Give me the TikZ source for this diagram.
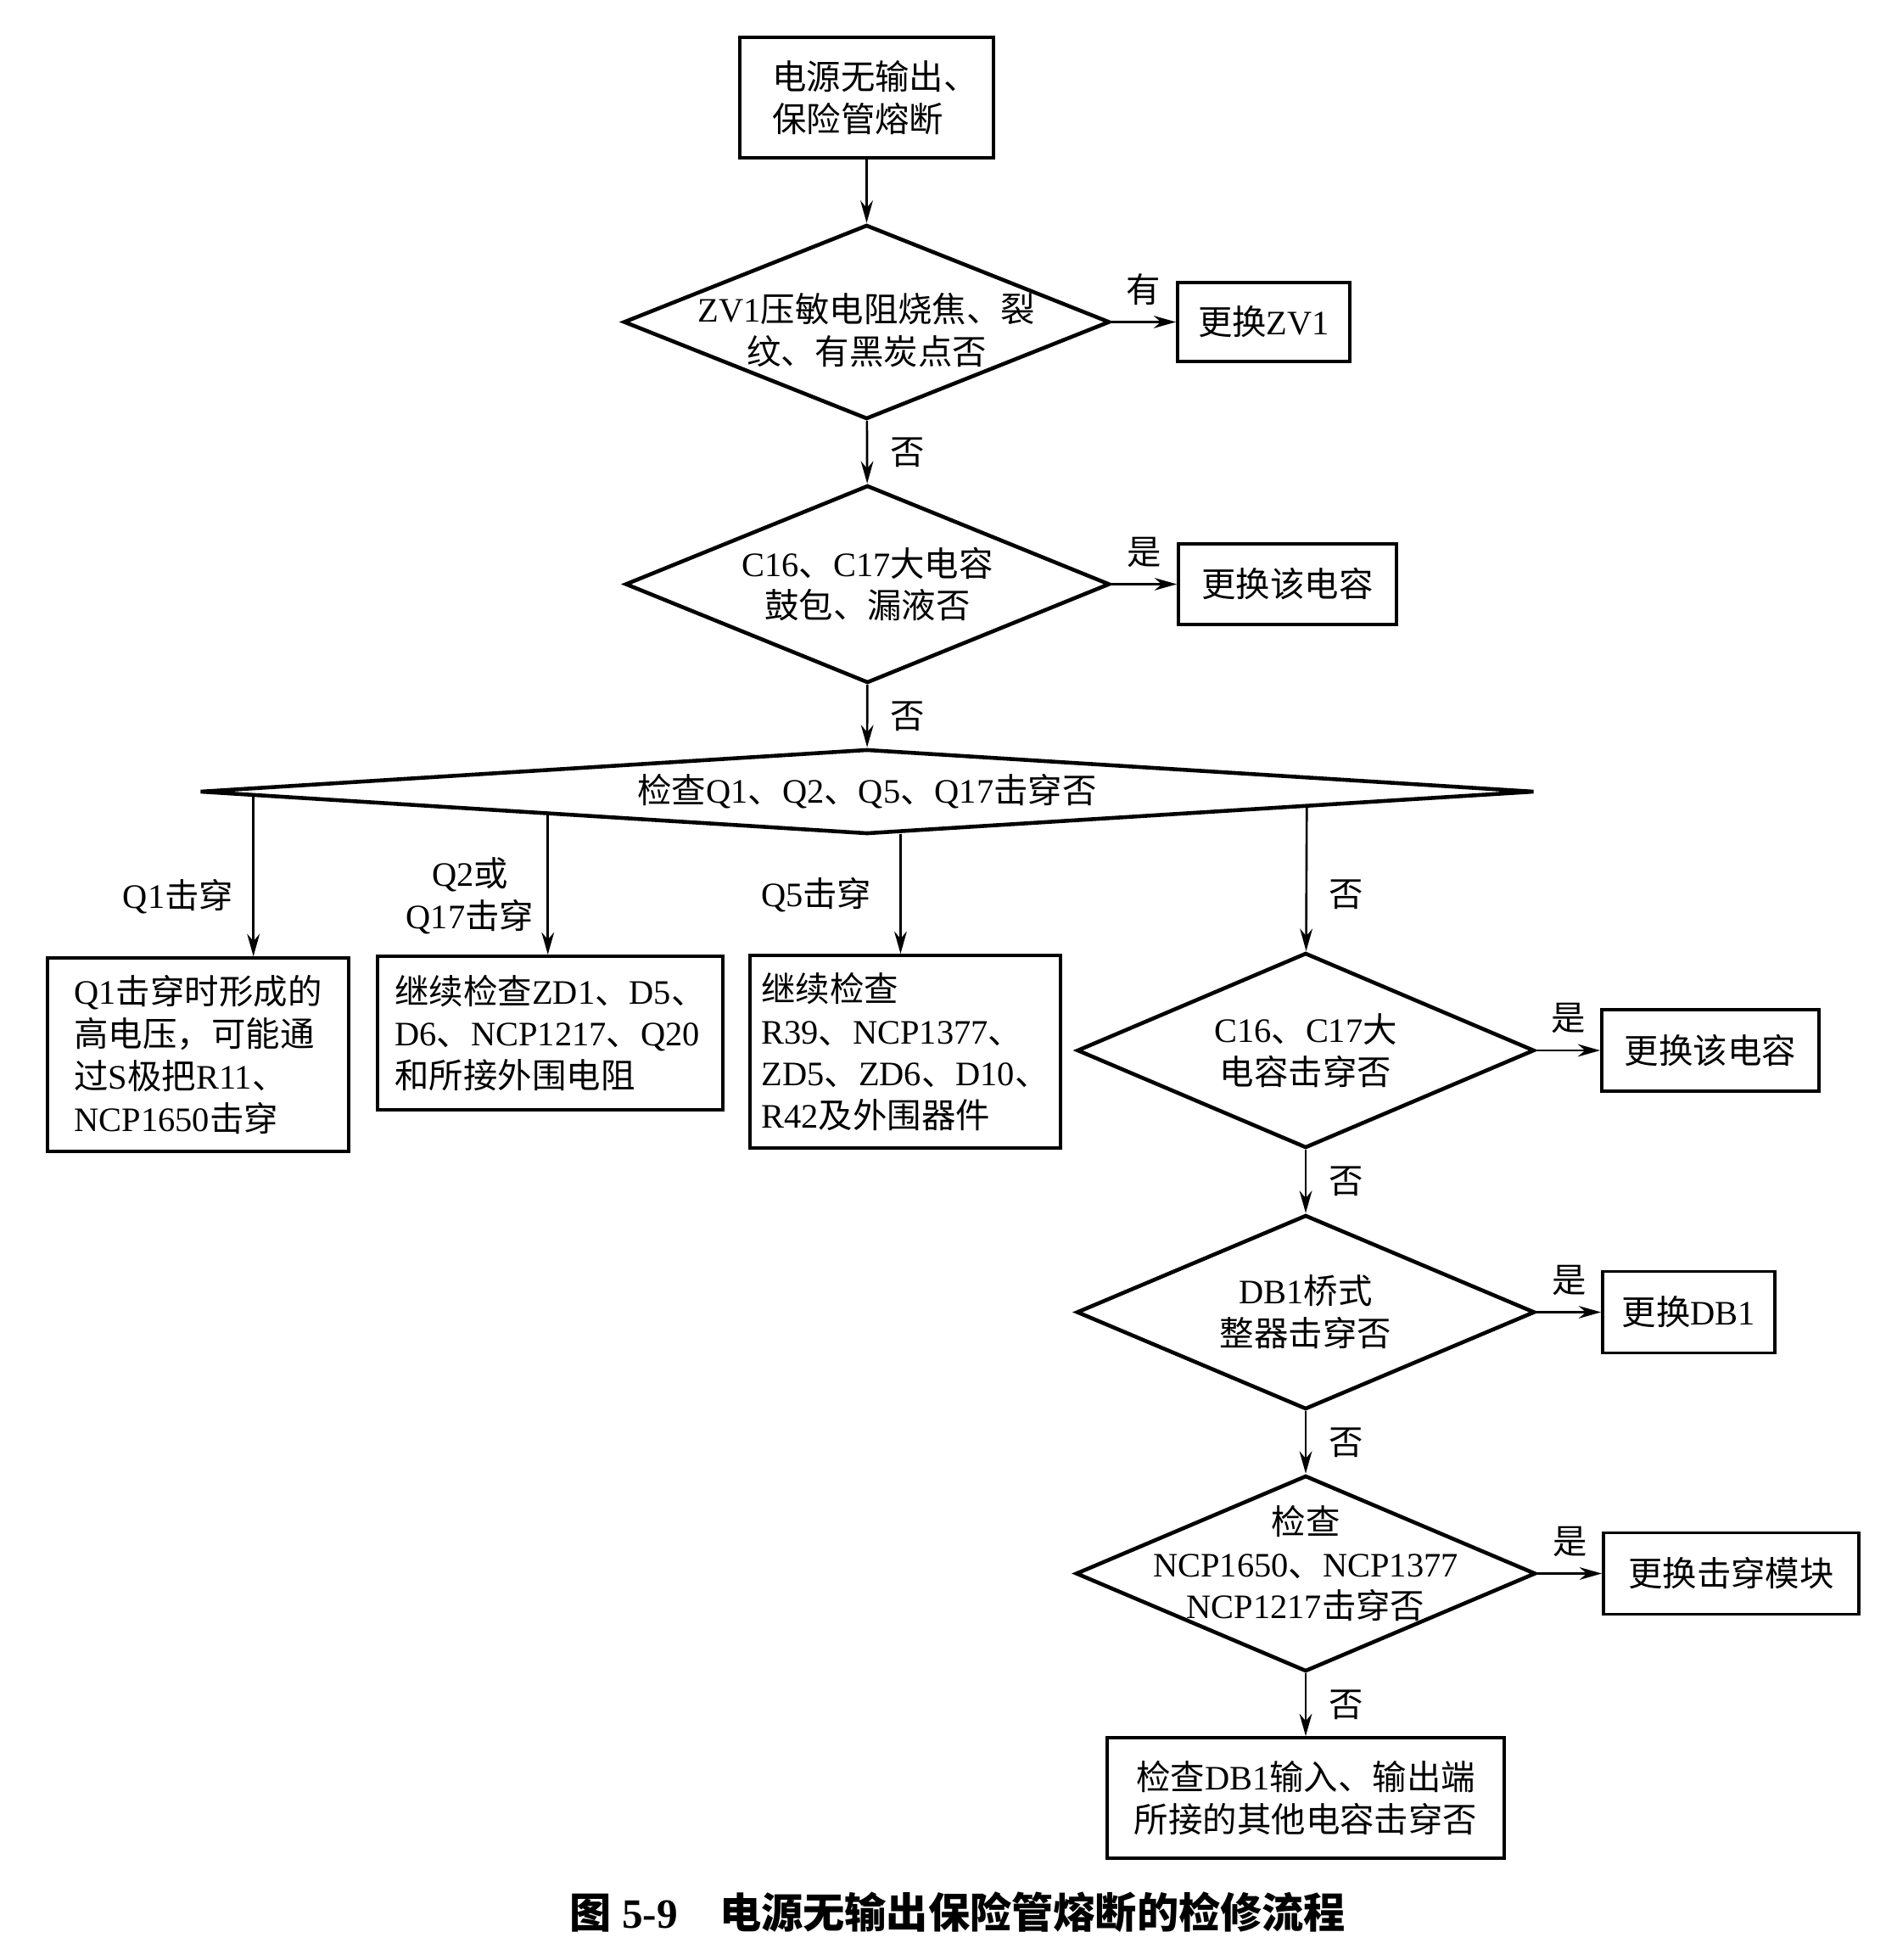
\documentclass[tikz,border=0pt]{standalone}
\usepackage{fontspec}
\setmainfont{Liberation Serif}
\newfontfamily\cjkfont{Noto Sans CJK SC}
\usetikzlibrary{shapes.geometric,arrows.meta,calc}

% Chinese characters in Noto, letters and digits in Liberation Serif
\XeTeXinterchartokenstate=1
\newXeTeXintercharclass\cjkclass
\newcount\cjkcode
\cjkcode="3000
\loop
  \XeTeXcharclass\cjkcode=\cjkclass
  \advance\cjkcode by 1
\ifnum\cjkcode<"A000 \repeat
\cjkcode="FF00
\loop
  \XeTeXcharclass\cjkcode=\cjkclass
  \advance\cjkcode by 1
\ifnum\cjkcode<"FFF0 \repeat
\XeTeXinterchartoks 0 \cjkclass={\cjkfont}
\XeTeXinterchartoks 4095 \cjkclass={\cjkfont}
\XeTeXinterchartoks \cjkclass 0={\rmfamily}
\XeTeXinterchartoks \cjkclass 4095={\rmfamily}

\tikzset{
  box/.style={draw, line width=1.1pt, inner sep=2pt},
  choice/.style={draw, line width=1.3pt, diamond, inner sep=0pt},
  >={Stealth[length=7.5pt,width=4.2pt]}
}

\begin{document}
\begin{tikzpicture}[line width=0.75pt, font=\fontsize{11.5}{14.2}\selectfont]
            \useasboundingbox (0,0) rectangle (22.22,-23.10);

            \node[box, minimum width=2.99cm, minimum height=1.42cm, align=left] (start) at (10.215,-1.15) {\hspace*{0.2cm}电源无输出、\\\hspace*{0.2cm}保险管熔断};
            \node[choice, minimum width=5.73cm, minimum height=2.29cm, label={[align=center, yshift=-0.1cm]center:{ZV1压敏电阻烧焦、裂\\纹、有黑炭点否}}] (d1) at (10.215,-3.795) {};
            \node[box, minimum width=2.03cm, minimum height=0.93cm] (r1) at (14.895,-3.795) {更换ZV1};
            \node[choice, minimum width=5.71cm, minimum height=2.33cm, label={[align=center]center:{C16、C17大电容\\鼓包、漏液否}}] (d2) at (10.225,-6.885) {};
            \node[box, minimum width=2.57cm, minimum height=0.95cm] (r2) at (15.175,-6.885) {更换该电容};
            \node[choice, minimum width=15.73cm, minimum height=1.00cm, label={center:{检查Q1、Q2、Q5、Q17击穿否}}] (d3) at (10.22,-9.33) {};

            \node[box, minimum width=3.55cm, minimum height=2.28cm, align=left] (q1) at (2.335,-12.43) {Q1击穿时形成的\\高电压，可能通\\过S极把R11、\\NCP1650击穿};
            \node[box, minimum width=4.07cm, minimum height=1.81cm, align=left] (q2) at (6.485,-12.175) {继续检查ZD1、D5、\\D6、NCP1217、Q20\\和所接外围电阻};
            \node[box, minimum width=3.66cm, minimum height=2.27cm, align=left] (q5) at (10.67,-12.395) {继续检查\\R39、NCP1377、\\ZD5、ZD6、D10、\\R42及外围器件};

            \node[choice, minimum width=5.39cm, minimum height=2.30cm, label={[align=center]center:{C16、C17大\\电容击穿否}}] (d4) at (15.39,-12.38) {};
            \node[box, minimum width=2.56cm, minimum height=0.96cm] (r4) at (20.16,-12.38) {更换该电容};
            \node[choice, minimum width=5.40cm, minimum height=2.29cm, label={[align=center]center:{DB1桥式\\整器击穿否}}] (d5) at (15.39,-15.465) {};
            \node[box, minimum width=2.03cm, minimum height=0.96cm] (r5) at (19.905,-15.465) {更换DB1};
            \node[choice, minimum width=5.42cm, minimum height=2.31cm, label={[align=center, yshift=0.12cm]center:{检查\\NCP1650、NCP1377\\NCP1217击穿否}}] (d6) at (15.39,-18.545) {};
            \node[box, minimum width=3.01cm, minimum height=0.96cm] (r6) at (20.405,-18.545) {更换击穿模块};
            \node[box, minimum width=4.68cm, minimum height=1.42cm, align=center] (fin) at (15.39,-21.19) {检查DB1输入、输出端\\所接的其他电容击穿否};

            \node (caption) at (11.29,-22.54) {\fontsize{14}{16}\selectfont\bfseries 图 5-9\quad 电源无输出保险管熔断的检修流程};

            \draw[->] (start) -- (d1);
            \draw[->] (d1) -- node[above=2pt] {有} (r1); \draw[->] (d1) -- node[right=4pt] {否} (d2);
            \draw[->] (d2) -- node[above=2pt] {是} (r2); \draw[->] (d2) -- node[right=4pt] {否} (d3);

            \coordinate (b1) at ($(d3.west)!0.083!(d3.south)$);
            \coordinate (b2) at ($(d3.west)!0.523!(d3.south)$);
            \coordinate (b3) at ($(d3.south)!0.05!(d3.east)$);
            \coordinate (b4) at ($(d3.south)!0.657!(d3.east)$);
            \draw[->] (b1) -- node[left=3pt, pos=0.63] {Q1击穿} (b1 |- q1.north);
            \draw[->] (b2) -- node[left=1pt, pos=0.58, align=center] {Q2或\\Q17击穿} (b2 |- q2.north);
            \draw[->] (b3) -- node[left=6pt, pos=0.51] {Q5击穿} (b3 |- q5.north);
            \draw[->] (b4) -- node[right=4pt, pos=0.61] {否} (d4);

            \draw[->] (d4) -- node[above=2pt] {是} (r4); \draw[->] (d4) -- node[right=4pt] {否} (d5);
            \draw[->] (d5) -- node[above=2pt] {是} (r5); \draw[->] (d5) -- node[right=4pt] {否} (d6);
            \draw[->] (d6) -- node[above=2pt] {是} (r6); \draw[->] (d6) -- node[right=4pt] {否} (fin);
\end{tikzpicture}
\end{document}
